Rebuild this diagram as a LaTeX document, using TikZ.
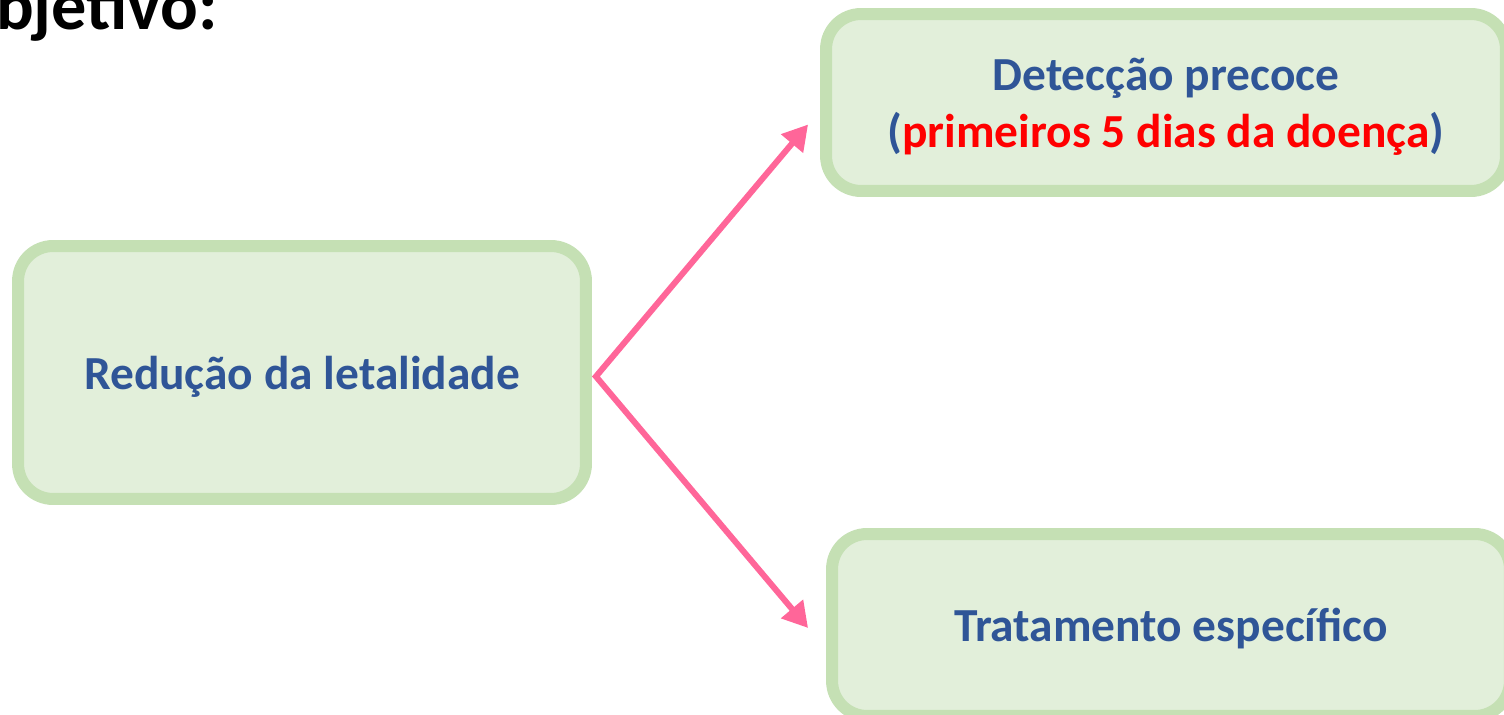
\documentclass[tikz,border=0pt]{standalone}
\usepackage{fontspec}
\setmainfont{Carlito}
\usetikzlibrary{arrows.meta,positioning}
\definecolor{boxfill}{HTML}{E2EFDA}
\definecolor{boxline}{HTML}{C5E0B4}
\definecolor{txtblue}{HTML}{2F5597}
\definecolor{arrpink}{HTML}{FF6699}
\begin{document}
\begin{tikzpicture}[x=0.02cm,y=-0.02cm,
    box/.style={draw=boxline,fill=boxfill,line width=0.24cm,rounded corners=0.7cm,
                align=center,text=txtblue,text depth=0pt,font=\fontsize{27}{32.5}\selectfont\bfseries},
    arr/.style={arrpink,line width=0.12cm,line join=miter,
                {Triangle[length=0.5cm,width=0.55cm]}-{Triangle[length=0.5cm,width=0.55cm]}}]
\useasboundingbox (0,0) rectangle (1504,715);
\clip (0,0) rectangle (1504,715);
\node[anchor=base east,inner sep=0pt,font=\fontsize{40}{48}\selectfont\bfseries](title) at (218,30){Objetivo:};
\node[box,minimum width=11.36cm,minimum height=5.06cm](red) at (302,372.5){Redução da letalidade};
\node[box,minimum width=13.6cm,minimum height=3.54cm](det) at (1166,102.5)
    {Detecção precoce\\(\textcolor{red}{primeiros 5 dias da doença})};
\node[box,minimum width=13.56cm,minimum height=3.64cm](trat) at (1171,625){Tratamento específico};
\draw[arr] ([shift={(-12,22)}]det.west) -- ([shift={(4,4)}]red.east) -- ([shift={(-18,3)}]trat.west);
\end{tikzpicture}
\end{document}
